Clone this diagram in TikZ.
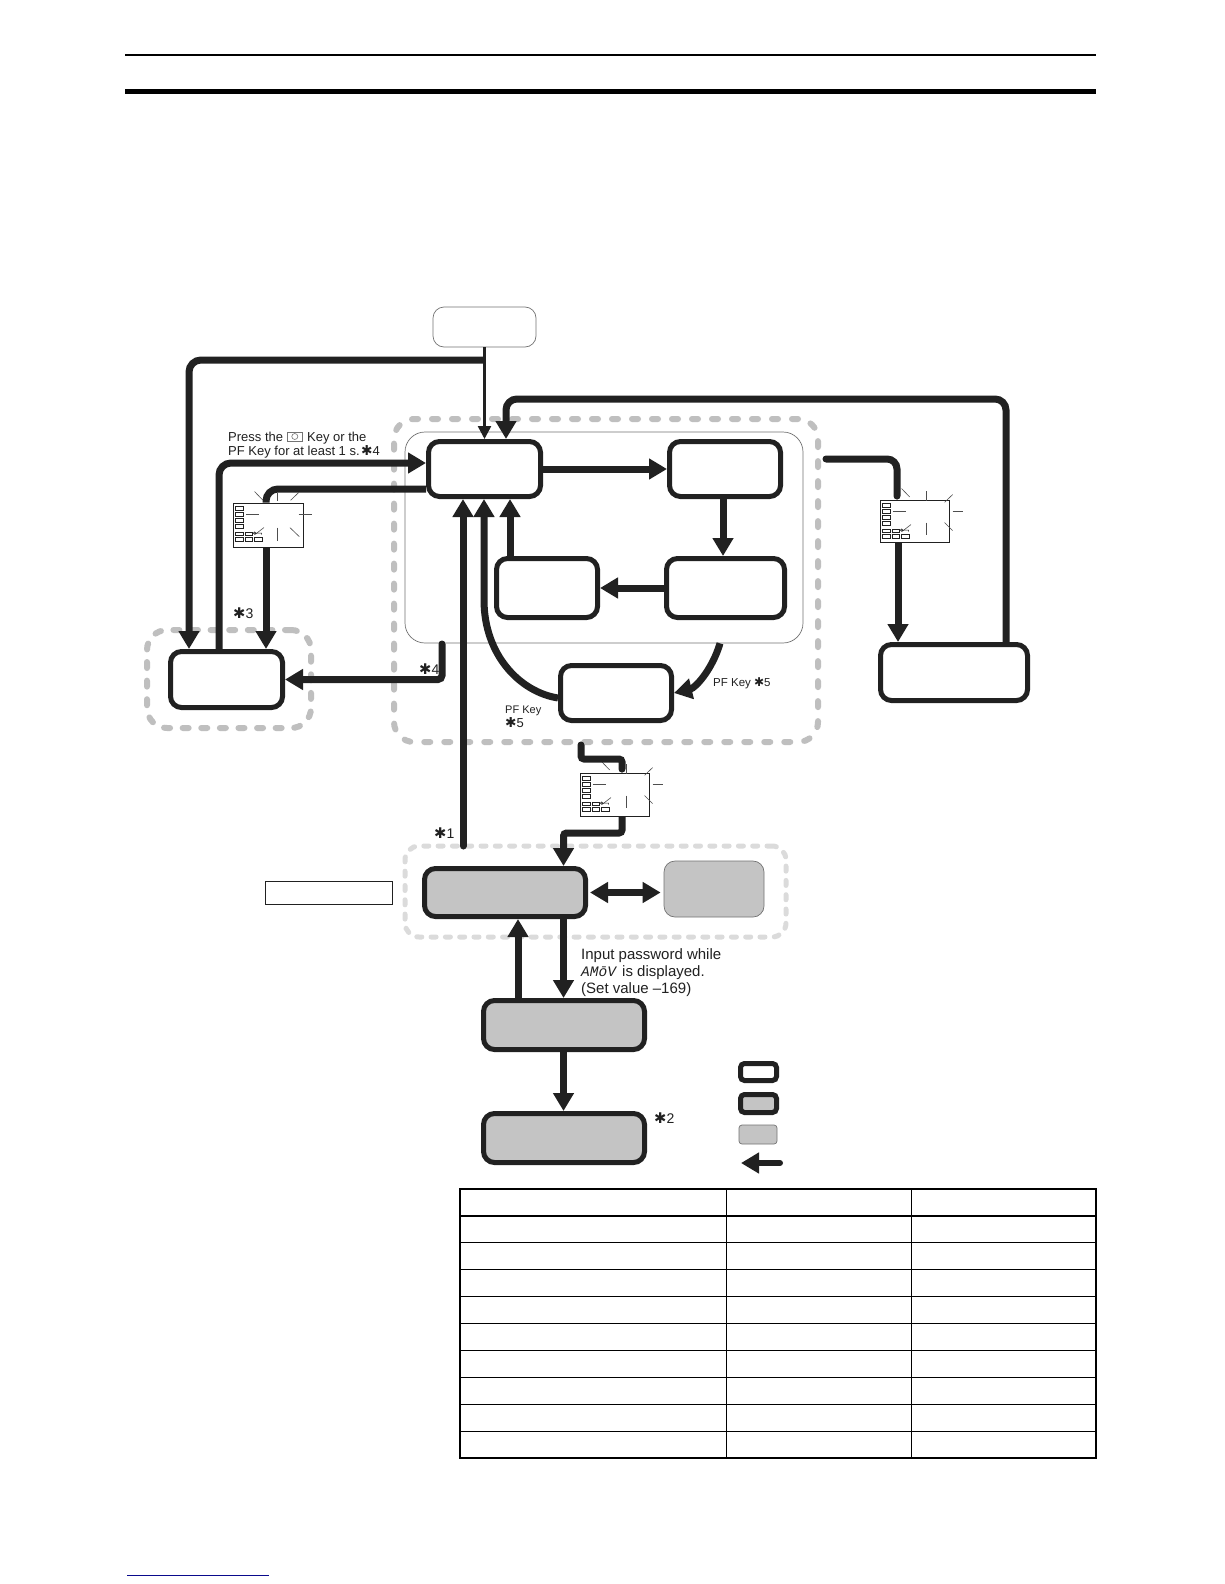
\documentclass[tikz,border=0pt]{standalone}
\usepackage{fontspec}
\setmainfont{Liberation Sans}
\setmonofont{Liberation Mono}
\newfontfamily\starfont[Scale=1.05]{DejaVu Sans}
\usetikzlibrary{arrows.meta,positioning}
\newcommand{\starsign}{{\starfont\char"2731}}
\definecolor{inkblack}{gray}{0.13}
\definecolor{dashgray}{gray}{0.75}
\definecolor{lightdash}{gray}{0.86}
\definecolor{panelgray}{gray}{0.77}
\definecolor{linkblue}{RGB}{10,10,140}
\newcommand{\lcdcommon}{
  \foreach \a/\b/\c/\d in {2.5/29.3/11/32.7, 12.5/29.3/19.5/32.7, 2.5/34.3/11/38.3, 12.5/34.3/20/38.3, 21.5/34.3/29.5/38.3}
    \draw[inkblack, line width=.5pt] (\a,\b) rectangle (\c,\d);
  \foreach \a/\b/\c/\d in {22/-11/30/-2.7, 13.3/12/26.7/12, 22.7/31.7/31.3/25}
    \draw[inkblack!80, line width=.6pt] (\a,\b) -- (\c,\d);
  \draw[inkblack, line width=.5pt] (22,30.5) circle (1.2) -- (29,30.5) -- (29,32);
}
\tikzset{
  lcdmark/.pic={
    \lcdcommon
    \foreach \b/\d in {4/7.3, 9.3/13.3, 16/19.3, 21.3/25.3}
      \draw[inkblack, line width=.5pt] (2.5,\b) rectangle (11,\d);
    \foreach \a/\b/\c/\d in {44.3/-9.3/44.3/-1.7, 66/-10/58/-2.3, 66/12/79.7/12, 44.3/25/44.3/38.3, 57.3/25/66.7/34}
      \draw[inkblack!80, line width=.6pt] (\a,\b) -- (\c,\d);
  },
  lcdmarkwide/.pic={
    \lcdcommon
    \foreach \b/\d in {3.7/7.7, 9.3/13.3, 15.3/19.3, 21.3/25.3}
      \draw[inkblack, line width=.5pt] (2.5,\b) rectangle (11,\d);
    \foreach \a/\b/\c/\d in {46.7/-8.3/46.7/1.7, 73/-5/65/2.7, 73/12/83/12, 46.7/23/46.7/35, 65/23/73/31}
      \draw[inkblack!80, line width=.6pt] (\a,\b) -- (\c,\d);
  }
}
\begin{document}
\begin{tikzpicture}[
  x=1pt, y=-1pt,
  every node/.style={inner sep=0pt},
  flowbox/.style={draw=inkblack, line width=5pt, rounded corners=11pt, fill=white},
  graybox/.style={flowbox, fill=panelgray},
  thinbox/.style={draw=black!55, line width=.7pt, rounded corners=11pt},
  region/.style={draw=dashgray, line width=6pt, line cap=round, dash pattern=on 6pt off 14pt, rounded corners=20pt},
  lightregion/.style={draw=lightdash, line width=5pt, line cap=round, dash pattern=on 5pt off 9.3pt, rounded corners=14pt},
  lcdbox/.style={draw=inkblack, line width=.8pt, fill=white},
  bigarrow/.style={draw=inkblack, line width=7pt, -{Triangle[length=18pt,width=20pt]}},
  smallarrow/.style={draw=inkblack, line width=2.5pt, -{Triangle[length=13pt,width=13pt]}},
  plainline/.style={draw=inkblack, line width=7pt},
  note/.style={font=\fontsize{13}{13.5}\selectfont, text=inkblack, anchor=base west},
  cornernote/.style={font=\fontsize{14}{14}\selectfont, text=inkblack, anchor=base west}
]
\useasboundingbox[fill=white] (0,0) rectangle (1224,1584);

% page rules
\coordinate (ruleA) at (125,55);
\coordinate (ruleB) at (1096,55);
\coordinate (ruleC) at (125,92);
\coordinate (ruleD) at (1096,92);
\coordinate (linkA) at (127,1575);
\coordinate (linkB) at (269,1575);
\draw[black, line width=2pt] (ruleA) -- (ruleB);
\draw[black, line width=5pt] (ruleC) -- (ruleD);
\draw[linkblue, line width=1pt] (linkA) -- (linkB);

% grouped areas
\node[region, minimum width=424pt, minimum height=323pt] (areaA) at (606,580.5) {};
\node[region, dash pattern=on 6pt off 12.6pt, minimum width=164pt, minimum height=98pt] (areaB) at (229,679) {};
\node[lightregion, minimum width=381pt, minimum height=91pt] (areaC) at (595.5,891.5) {};
\node[thinbox, rounded corners=20pt, minimum width=398pt, minimum height=211pt] (panel) at (604,537.5) {};

% boxes
\node[thinbox, minimum width=103pt, minimum height=40pt, fill=white] (start) at (484.5,327) {};
\node[flowbox, minimum width=112pt, minimum height=55pt] (run) at (484.5,469) {};
\node[flowbox, minimum width=111pt, minimum height=55pt] (topright) at (725,469) {};
\node[flowbox, minimum width=118pt, minimum height=59pt] (lowright) at (725.5,588) {};
\node[flowbox, minimum width=101pt, minimum height=59pt] (lowmid) at (547,588) {};
\node[flowbox, minimum width=111pt, minimum height=55pt] (pfbox) at (616,693) {};
\node[flowbox, minimum width=112pt, minimum height=56pt] (stopbox) at (226.5,679.5) {};
\node[flowbox, minimum width=147pt, minimum height=56pt] (protect) at (954,672.5) {};
\node[graybox, minimum width=161pt, minimum height=48pt] (adjust) at (505,892.5) {};
\node[thinbox, fill=panelgray, minimum width=100pt, minimum height=56pt] (comm) at (714,889) {};
\node[graybox, minimum width=161pt, minimum height=49pt] (calib) at (564,1025) {};
\node[graybox, minimum width=161pt, minimum height=49pt] (factory) at (564,1138) {};
\node[draw=inkblack, line width=.8pt, minimum width=127pt, minimum height=23pt] (tag) at (329,892.5) {};

% lcd signs
\node[lcdbox, minimum width=70pt, minimum height=44pt] (lcdA) at (268,525) {};
\node[lcdbox, minimum width=69pt, minimum height=42pt] (lcdB) at (914.5,521) {};
\node[lcdbox, minimum width=69pt, minimum height=43pt] (lcdC) at (614.5,794.5) {};
\pic at (lcdA.north west) {lcdmark};
\pic at (lcdB.north west) {lcdmarkwide};
\pic at (lcdC.north west) {lcdmarkwide};

% free ends
\coordinate (split) at (484,360);
\coordinate (exitleft) at (442,644);
\coordinate (exitright) at (826,459);
\coordinate (exitlow) at (581,745);
\coordinate (exitup) at (463,846);

% connectors
\draw[smallarrow] (start.south) -- (run.north);
\draw[bigarrow, rounded corners=12pt] (split) -| ([xshift=-37.5pt]stopbox.north);
\draw[bigarrow, rounded corners=12pt] ([xshift=-7.5pt]stopbox.north) |- ([yshift=6pt]run.west);
\draw[plainline, rounded corners=12pt] ([yshift=-20pt]run.west) -| ([xshift=-2pt]lcdA.north);
\draw[bigarrow] ([xshift=-2pt]lcdA.south) -- ([xshift=39.5pt]stopbox.north);
\draw[bigarrow, line cap=round, rounded corners=4pt] (exitleft) |- (stopbox.east);
\draw[bigarrow] (run.east) -- (topright.west);
\draw[bigarrow] ([xshift=-2pt]topright.south) -- ([xshift=-2.5pt]lowright.north);
\draw[bigarrow] (lowright.west) -- (lowmid.east);
\draw[bigarrow] ([xshift=-37pt]lowmid.north) -- ([xshift=25.5pt]run.south);
\draw[bigarrow] ([xshift=116pt]panel.south) .. controls +(-8,27) and +(21,-5) .. (pfbox.east);
\draw[bigarrow] ([yshift=-5pt]pfbox.west) .. controls (520,692) and (484,655) .. (484,600) -- ([xshift=-.5pt]run.south);
\draw[bigarrow, line cap=round] (exitup) -- ([xshift=-21.5pt]run.south);
\draw[bigarrow, rounded corners=11pt] ([xshift=52pt]protect.north) -- (1006,399) -- (506,399) -- ([xshift=21.5pt]run.north);
\draw[plainline, line cap=round, rounded corners=10pt] (exitright) -| ([xshift=-17.5pt,yshift=3.5pt]lcdB.north);
\draw[bigarrow] ([xshift=-16.5pt]lcdB.south) -- ([xshift=-56pt]protect.north);
\draw[plainline, line cap=round, rounded corners=3pt] (exitlow) |- (622,759) -- ([xshift=7.5pt,yshift=3.5pt]lcdC.north);
\draw[bigarrow, rounded corners=3pt] ([xshift=7.5pt]lcdC.south) |- (563.5,833) -- ([xshift=58.5pt]adjust.north);
\draw[bigarrow, {Triangle[length=18pt,width=20pt]}-{Triangle[length=18pt,width=20pt]}] ([xshift=2pt]adjust.east) -- ([xshift=-3pt]adjust.east -| comm.west);
\draw[bigarrow] ([xshift=-46pt]calib.north) -- ([xshift=13pt]adjust.south);
\draw[bigarrow] ([xshift=58.5pt]adjust.south) -- ([xshift=-.5pt]calib.north);
\draw[bigarrow] ([xshift=-.5pt]calib.south) -- ([xshift=-.5pt]factory.north);

% labels
\node[note] (pressA) at (228,441) {Press the};
\node[draw=black!55, line width=.6pt, minimum width=15pt, minimum height=9pt, anchor=west] (keyicon) at (287,436.5) {};
\draw[black!55, line width=.6pt] (keyicon.center) circle (3);
\node[note] (pressB) at (307,441) {Key or the};
\node[note] (pressC) at (228,455) {PF Key for at least 1 s.\hspace{1.5pt}\starsign4};
\node[cornernote] (starA) at (434,838) {\starsign1};
\node[cornernote] (starB) at (654,1123) {\starsign2};
\node[cornernote] (starC) at (233,618) {\starsign3};
\node[cornernote] (starD) at (419,674) {\starsign4};
\node[note, font=\fontsize{11.5}{12}\selectfont] (pfkeyA) at (713,686) {PF Key \starsign5};
\node[note, font=\fontsize{11}{12}\selectfont] (pfkeyB) at (505,713) {PF Key};
\node[cornernote, font=\fontsize{13}{13}\selectfont] (pfkeyC) at (505,727) {\starsign5};
\node[note, font=\fontsize{15}{17}\selectfont] (inputA) at (581,959) {Input password while};
\node[note, font=\fontsize{14.5}{17}\ttfamily\itshape] (inputB) at (581,976) {AMōV};
\node[note, font=\fontsize{15}{17}\selectfont] (inputC) at (622,976) {is displayed.};
\node[note, font=\fontsize{15}{17}\selectfont] (inputD) at (581,993) {(Set value –169)};

% legend
\node[flowbox, rounded corners=4pt, minimum width=36pt, minimum height=17pt] (legendA) at (758.5,1072) {};
\node[graybox, rounded corners=4pt, minimum width=36pt, minimum height=18pt] (legendB) at (758.5,1103.5) {};
\node[thinbox, rounded corners=3pt, fill=panelgray, minimum width=38pt, minimum height=19pt] (legendC) at (758,1134.5) {};
\coordinate (legendtail) at (780,1163);
\coordinate (legendtip) at (741,1163);
\draw[bigarrow, line width=6pt, line cap=round] (legendtail) -- (legendtip);

% table
\draw[black, line width=1pt] (726,1189) -- (726,1458) (911,1189) -- (911,1458);
\foreach \y in {1242,1269,1296,1323,1350,1377,1404,1431}
  \draw[black, line width=1pt] (460,\y) -- (1096,\y);
\draw[black, line width=2.4pt] (460,1216) -- (1096,1216);
\draw[black, line width=2.4pt] (460,1189) rectangle (1096,1458);
\end{tikzpicture}
\end{document}
